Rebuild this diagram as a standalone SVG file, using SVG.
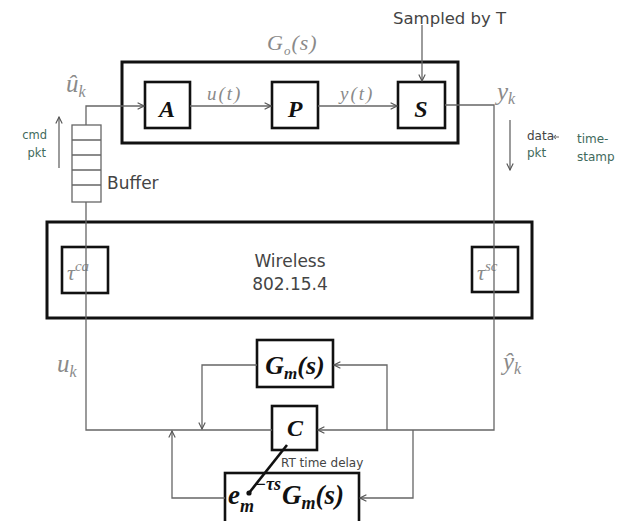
<svg xmlns="http://www.w3.org/2000/svg" width="618" height="521" viewBox="0 0 618 521">
<defs>
<marker id="arr" viewBox="0 0 10 10" refX="9" refY="5" markerWidth="8" markerHeight="8" orient="auto" markerUnits="userSpaceOnUse">
<path d="M1,1 L9,5 L1,9" fill="none" stroke="#555" stroke-width="1.4"/>
</marker>
</defs>
<style>
.ln{fill:none;stroke:#666;stroke-width:1.3}
.bx{fill:#fff;stroke:#111;stroke-width:2.6}
.tb{fill:none;stroke:#111;stroke-width:2.6}
.big{fill:none;stroke:#111;stroke-width:3}
.m{font-family:"Liberation Serif",serif;font-style:italic;fill:#8a8a8a}
.b{font-family:"Liberation Serif",serif;font-style:italic;font-weight:bold;fill:#111}
.s{font-family:"DejaVu Sans",sans-serif;fill:#444}
.g{font-family:"DejaVu Sans",sans-serif;fill:#3f6a5c}
</style>
<rect width="618" height="521" fill="#fff"/>

<g id="go">
<rect class="big" x="122" y="62" width="336" height="81"/>
<text class="m" x="267" y="50" font-size="22" letter-spacing="1">G<tspan font-size="13" dy="5">o</tspan><tspan dy="-5">(s)</tspan></text>
</g>
<g id="A"><rect class="bx" x="145" y="82" width="45" height="46"/><text class="b" x="167" y="117" font-size="24" text-anchor="middle">A</text></g>
<g id="P"><rect class="bx" x="272" y="82" width="46" height="46"/><text class="b" x="295" y="117" font-size="24" text-anchor="middle">P</text></g>
<g id="S"><rect class="bx" x="398" y="82" width="47" height="46"/><text class="b" x="421" y="117" font-size="24" text-anchor="middle">S</text></g>
<g id="buffer">
<rect class="ln" x="72" y="125" width="29" height="77"/>
<path class="ln" d="M72,140 H101 M72,155 H101 M72,170 H101 M72,185 H101"/>
<text class="s" x="107" y="189" font-size="17" fill="#333">Buffer</text>
</g>
<g id="wireless">
<rect class="big" x="47" y="222" width="485" height="96"/>
<text class="s" x="290" y="267" font-size="17" text-anchor="middle">Wireless</text>
<text class="s" x="290" y="290" font-size="17" text-anchor="middle">802.15.4</text>
</g>
<g id="tau-ca"><rect class="tb" x="62" y="247" width="46" height="46"/><text class="m" x="67" y="280" font-size="22" fill="#555">τ<tspan font-size="15" dy="-9">ca</tspan></text></g>
<g id="tau-sc"><rect class="tb" x="472" y="247" width="46" height="45"/><text class="m" x="477" y="280" font-size="22" fill="#555">τ<tspan font-size="15" dy="-9">sc</tspan></text></g>
<g id="Gm"><rect class="bx" x="257" y="340" width="76" height="47"/><text class="b" x="295" y="374" font-size="26" text-anchor="middle">G<tspan font-size="17" dy="5">m</tspan><tspan dy="-5">(s)</tspan></text></g>
<g id="C"><rect class="bx" x="272" y="406" width="45" height="44"/><text class="b" x="295" y="436" font-size="24" text-anchor="middle">C</text></g>
<g id="delay"><rect class="bx" x="225" y="473" width="134" height="52"/><text class="b" x="228" y="504" font-size="27">e<tspan font-size="18" dy="8">m</tspan><tspan font-size="18" dy="-22" dx="1">−τs</tspan><tspan dy="14" dx="1">G</tspan><tspan font-size="18" dy="5">m</tspan><tspan dy="-5">(s)</tspan></text></g>

<g id="connectors">
<path class="ln" d="M86,125 V106 H144" marker-end="url(#arr)"/>
<path class="ln" d="M190,106 H271" marker-end="url(#arr)"/>
<path class="ln" d="M318,106 H397" marker-end="url(#arr)"/>
<path class="ln" d="M422,25 V81" marker-end="url(#arr)"/>
<path class="ln" d="M445,105 H494 V430 H318" marker-end="url(#arr)"/>
<path class="ln" d="M86,202 V430 H272"/>
<path class="ln" d="M257,365 H202 V429" marker-end="url(#arr)"/>
<path class="ln" d="M387,430 V365 H334" marker-end="url(#arr)"/>
<path class="ln" d="M413,430 V498 H360" marker-end="url(#arr)"/>
<path class="ln" d="M225,498 H172 V431" marker-end="url(#arr)"/>
<path class="ln" d="M59,168 V117" marker-end="url(#arr)"/>
<path class="ln" d="M510,120 V170" marker-end="url(#arr)"/>
<path d="M559,137 H554 M556,135 L553.5,137 L556,139" fill="none" stroke="#666" stroke-width="1"/>
<path d="M287,445 L249,493" stroke="#111" stroke-width="2.6" fill="none"/>
<circle cx="249" cy="493" r="2.6" fill="#111"/>
</g>

<g id="labels">
<text class="m" x="207" y="100" font-size="19" letter-spacing="2">u(t)</text>
<text class="m" x="340" y="100" font-size="19" letter-spacing="2">y(t)</text>
<text class="s" x="393" y="24" font-size="16.5">Sampled by T</text>
<text class="m" x="66" y="92" font-size="25">û<tspan font-size="16" dy="5">k</tspan></text>
<text class="m" x="497" y="100" font-size="25">y<tspan font-size="16" dy="4">k</tspan></text>
<text class="m" x="57" y="372" font-size="25">u<tspan font-size="16" dy="5">k</tspan></text>
<text class="m" x="503" y="370" font-size="25">ŷ<tspan font-size="16" dy="4">k</tspan></text>
<text class="g" x="47" y="139" font-size="11.5" text-anchor="end">cmd</text>
<text class="g" x="46" y="157" font-size="11.5" text-anchor="end">pkt</text>
<text class="s" x="527" y="140" font-size="12" fill="#8a5a4a">data</text>
<text class="g" x="527" y="157" font-size="12">pkt</text>
<text class="g" x="577" y="143" font-size="12">time-</text>
<text class="g" x="577" y="161" font-size="12">stamp</text>
<text class="s" x="281" y="467" font-size="12">RT time delay</text>
</g>
</svg>
